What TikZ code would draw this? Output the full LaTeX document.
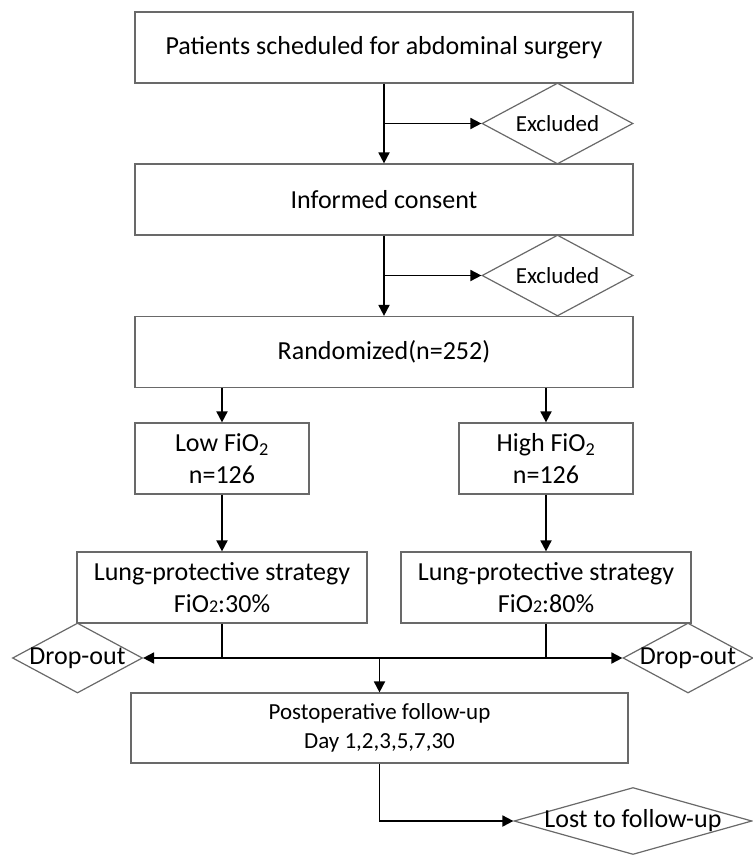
\documentclass[tikz,border=0pt]{standalone}
\usepackage{fontspec}
\setmainfont{Carlito}
\usetikzlibrary{arrows.meta,shapes.geometric}
\definecolor{boxgray}{RGB}{105,105,105}

\begin{document}
\begin{tikzpicture}[x=1pt, y=-1pt,
  font=\fontsize{26}{32}\selectfont,
  box/.style={draw=boxgray, line width=1.2pt, inner sep=0pt, align=center},
  dia/.style={draw=boxgray, line width=1.2pt, diamond, inner sep=0pt},
  small/.style={font=\fontsize{23}{29}\selectfont},
  flow/.style={line width=1.8pt, -{Triangle[length=11pt,width=11pt]}},
  link/.style={line width=1.8pt}]
  \useasboundingbox (0,0) rectangle (753,855);

  % Enrolment boxes
  \node[box, minimum width=498, minimum height=71] (patients) at (384,47.5) {Patients scheduled for abdominal surgery};
  \node[box, minimum width=498, minimum height=71] (consent) at (384,199.5) {Informed consent};
  \node[box, minimum width=498, minimum height=71] (random) at (384,352) {Randomized(n=252)};

  % Exclusions
  \node[dia, minimum width=151, minimum height=81] (excla) at (557.5,123.5) {};
  \node[small] (exclatxt) at (excla) {Excluded};
  \node[dia, minimum width=151, minimum height=81] (exclb) at (557.5,275.5) {};
  \node[small] (exclbtxt) at (exclb) {Excluded};
  \coordinate (splita) at (patients.south |- excla.west);
  \coordinate (splitb) at (consent.south |- exclb.west);
  \draw[flow] (patients.south) -- (consent.north);
  \draw[flow] (splita) -- (excla.west);
  \draw[flow] (consent.south) -- (random.north);
  \draw[flow] (splitb) -- (exclb.west);

  % Randomized arms
  \node[box, minimum width=174, minimum height=71] (low) at (222,458.5) {Low FiO\textsubscript{2}\\n=126};
  \node[box, minimum width=174, minimum height=71] (high) at (546,458.5) {High FiO\textsubscript{2}\\n=126};
  \draw[flow] (random.south -| low.north) -- (low.north);
  \draw[flow] (random.south -| high.north) -- (high.north);

  % Ventilation strategy
  \node[box, minimum width=290, minimum height=71] (lunglow) at (222,587.5) {Lung-protective strategy\\FiO{\fontsize{18}{18}\selectfont 2}:30\%};
  \node[box, minimum width=290, minimum height=71] (lunghigh) at (546,587.5) {Lung-protective strategy\\FiO{\fontsize{18}{18}\selectfont 2}:80\%};
  \draw[flow] (low.south) -- (lunglow.north);
  \draw[flow] (high.south) -- (lunghigh.north);

  % Drop-outs
  \node[dia, minimum width=130, minimum height=70] (dropl) at (77.5,658) {};
  \node (dropltxt) at (dropl) {Drop-out};
  \node[dia, minimum width=130, minimum height=70] (dropr) at (688,658) {};
  \node (droprtxt) at (dropr) {Drop-out};

  % Follow-up
  \node[box, small, minimum width=497, minimum height=70] (follow) at (379.5,728) {Postoperative follow-up\\Day 1,2,3,5,7,30};
  \coordinate (merge) at (follow.north |- dropl.east);
  \draw[link] (lunglow.south) -- (lunglow.south |- merge);
  \draw[link] (lunghigh.south) -- (lunghigh.south |- merge);
  \draw[flow] (merge) -- (dropl.east);
  \draw[flow] (merge) -- (dropr.west);
  \draw[flow] (merge) -- (follow.north);

  % Lost
  \node[dia, minimum width=238, minimum height=67] (lost) at (633,821) {};
  \node (losttxt) at (lost) {Lost to follow-up};
  \draw[flow] (follow.south) |- (lost.west);
\end{tikzpicture}
\end{document}
